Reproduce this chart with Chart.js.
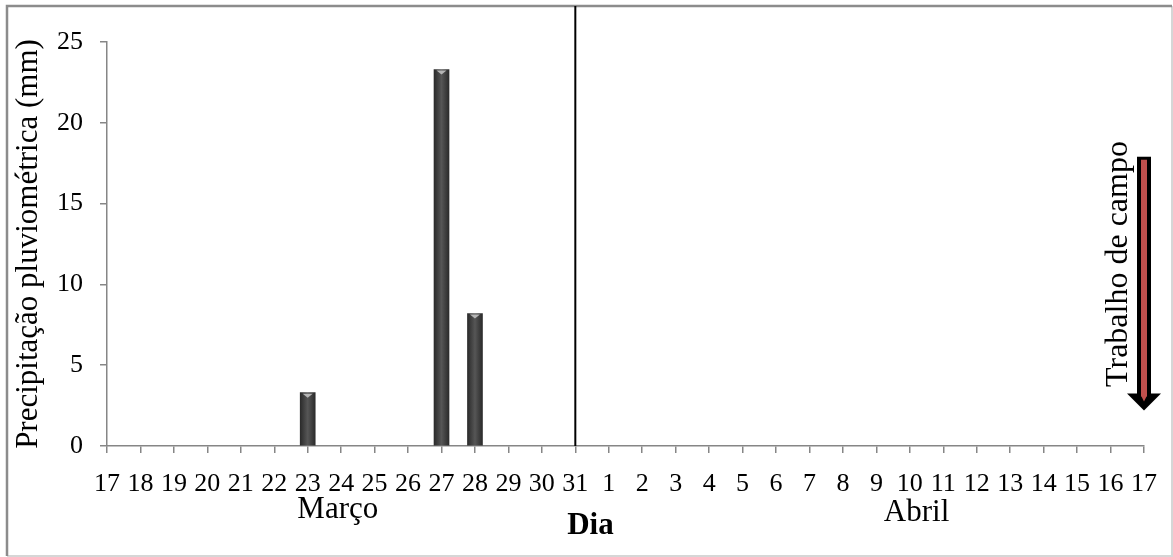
<!DOCTYPE html>
<html>
<head>
<meta charset="utf-8">
<script src="https://cdn.jsdelivr.net/npm/chart.js@4.4.1/dist/chart.umd.min.js"></script>
<style>
    html, body { margin: 0; padding: 0; background: #fff; }
    canvas { display: block; }
</style>
</head>
<body>
<canvas id="graficoChuva" width="1173" height="557"></canvas>
<script>
// Dias de 17 de março a 17 de abril
const dias = ['17','18','19','20','21','22','23','24','25','26','27','28','29','30','31',
              '1','2','3','4','5','6','7','8','9','10','11','12','13','14','15','16','17'];
// Precipitação diária (mm)
const chuva = [0,0,0,0,0,0,3.3,0,0,0,23.3,8.2,0,0,0,
               0,0,0,0,0,0,0,0,0,0,0,0,0,0,0,0,0];
const ticksY = [0, 5, 10, 15, 20, 25];
const meses = ['Março', 'Abril'];
const textoArrow = 'Trabalho de campo';

const fonte = '"Liberation Serif", "Times New Roman", serif';
const cinzaEixo = '#868686';

// desenha moldura, linha do fim de março, meses, seta etc.
const extras = {
    id: 'extras',
    beforeDraw(chart) {
        const ctx = chart.ctx;
        ctx.save();
        ctx.fillStyle = '#fff';
        ctx.fillRect(0, 0, chart.width, chart.height);
        ctx.restore();
    },
    afterDatasetsDraw(chart) {
        const ctx = chart.ctx;
        const x = chart.scales.x;
        const y = chart.scales.y;
        const area = chart.chartArea;

        // moldura
        ctx.save();
        ctx.lineWidth = 2;
        ctx.strokeStyle = '#d6d6d6';
        ctx.beginPath();
        ctx.moveTo(1172, 6); ctx.lineTo(1172, 556); ctx.lineTo(7, 556);
        ctx.stroke();
        ctx.strokeStyle = '#8c8c8c';
        ctx.lineWidth = 2.5;
        ctx.beginPath();
        ctx.moveTo(7, 556); ctx.lineTo(7, 6); ctx.lineTo(1172, 6);
        ctx.stroke();

        // linha vertical em 31 de março
        const x31 = x.getPixelForValue(14);
        ctx.strokeStyle = '#000';
        ctx.lineWidth = 2;
        ctx.beginPath();
        ctx.moveTo(x31, 6);
        ctx.lineTo(x31, area.bottom);
        ctx.stroke();

        // triângulo claro no topo das barras
        const meta = chart.getDatasetMeta(0);
        meta.data.forEach((bar, i) => {
            if (!chuva[i]) return;
            ctx.fillStyle = '#b5b5b5';
            ctx.beginPath();
            ctx.moveTo(bar.x - 5, bar.y + 1);
            ctx.lineTo(bar.x + 5, bar.y + 1);
            ctx.lineTo(bar.x, bar.y + 5);
            ctx.closePath();
            ctx.fill();
        });

        // meses e título do eixo x
        ctx.fillStyle = '#000';
        ctx.textAlign = 'center';
        ctx.textBaseline = 'middle';
        ctx.font = '31px ' + fonte;
        ctx.fillText(meses[0], x.getPixelForValue(6.9), 510);
        ctx.fillText(meses[1], x.getPixelForValue(24.2), 513);
        ctx.font = 'bold 31px ' + fonte;
        ctx.fillText('Dia', x.getPixelForValue(14.45), 526);

        // seta do trabalho de campo
        const xa = x.getPixelForValue(dias.length - 1);
        const topo = y.getPixelForValue(17.9);
        const ponta = y.getPixelForValue(2.2);
        const cabeca = ponta - 17;
        ctx.fillStyle = '#000';
        ctx.fillRect(xa - 7, topo, 14, cabeca - topo + 1);
        ctx.beginPath();
        ctx.moveTo(xa - 17, cabeca);
        ctx.lineTo(xa + 17, cabeca);
        ctx.lineTo(xa, ponta);
        ctx.closePath();
        ctx.fill();
        ctx.fillStyle = '#c0504d';
        ctx.fillRect(xa - 3, topo + 3, 6, cabeca - topo);
        ctx.beginPath();
        ctx.moveTo(xa - 3, cabeca + 2);
        ctx.lineTo(xa + 3, cabeca + 2);
        ctx.lineTo(xa, cabeca + 8);
        ctx.closePath();
        ctx.fill();

        ctx.translate(xa - 25, 264);
        ctx.rotate(-Math.PI / 2);
        ctx.fillStyle = '#000';
        ctx.font = '32px ' + fonte;
        ctx.fillText(textoArrow, 0, 0);
        ctx.restore();
    }
};

const ctx = document.getElementById('graficoChuva').getContext('2d');
new Chart(ctx, {
    type: 'bar',
    data: {
        labels: dias,
        datasets: [{
            data: chuva,
            barThickness: 15,
            borderWidth: 0,
            backgroundColor: function(c) {
                const chart = c.chart;
                if (!chuva[c.dataIndex]) return 'rgba(0,0,0,0)';
                if (!chart.chartArea) return '#404040';
                const px = chart.scales.x.getPixelForValue(c.dataIndex);
                const g = chart.ctx.createLinearGradient(px - 7.5, 0, px + 7.5, 0);
                g.addColorStop(0, '#2b2b2b');
                g.addColorStop(0.5, '#565656');
                g.addColorStop(1, '#2b2b2b');
                return g;
            }
        }]
    },
    options: {
        responsive: false,
        animation: false,
        devicePixelRatio: 1,
        layout: { padding: { top: 42, right: 29, bottom: 0, left: 0 } },
        plugins: {
            legend: { display: false },
            tooltip: { enabled: false }
        },
        scales: {
            x: {
                offset: false,
                grid: { offset: false, drawOnChartArea: false, drawTicks: true, tickLength: 7, color: cinzaEixo, lineWidth: 1.5 },
                border: { color: cinzaEixo, width: 1.5 },
                ticks: {
                    color: '#000',
                    font: { family: fonte, size: 26 },
                    padding: 16,
                    maxRotation: 0,
                    autoSkip: false
                },
                afterFit: function(s) { s.height = 111; }
            },
            y: {
                min: 0,
                max: 25,
                afterBuildTicks: function(s) { s.ticks = ticksY.map(v => ({ value: v })); },
                grid: { drawOnChartArea: false, drawTicks: true, tickLength: 7, color: cinzaEixo, lineWidth: 1.5 },
                border: { color: cinzaEixo, width: 1.5 },
                ticks: {
                    color: '#000',
                    font: { family: fonte, size: 26 },
                    padding: 17
                },
                title: {
                    display: true,
                    text: 'Precipitação pluviométrica (mm)',
                    color: '#000',
                    font: { family: fonte, size: 31 },
                    padding: { top: 10, bottom: 0 }
                },
                afterFit: function(s) { s.width = 107; }
            }
        }
    },
    plugins: [extras]
});
</script>
</body>
</html>
